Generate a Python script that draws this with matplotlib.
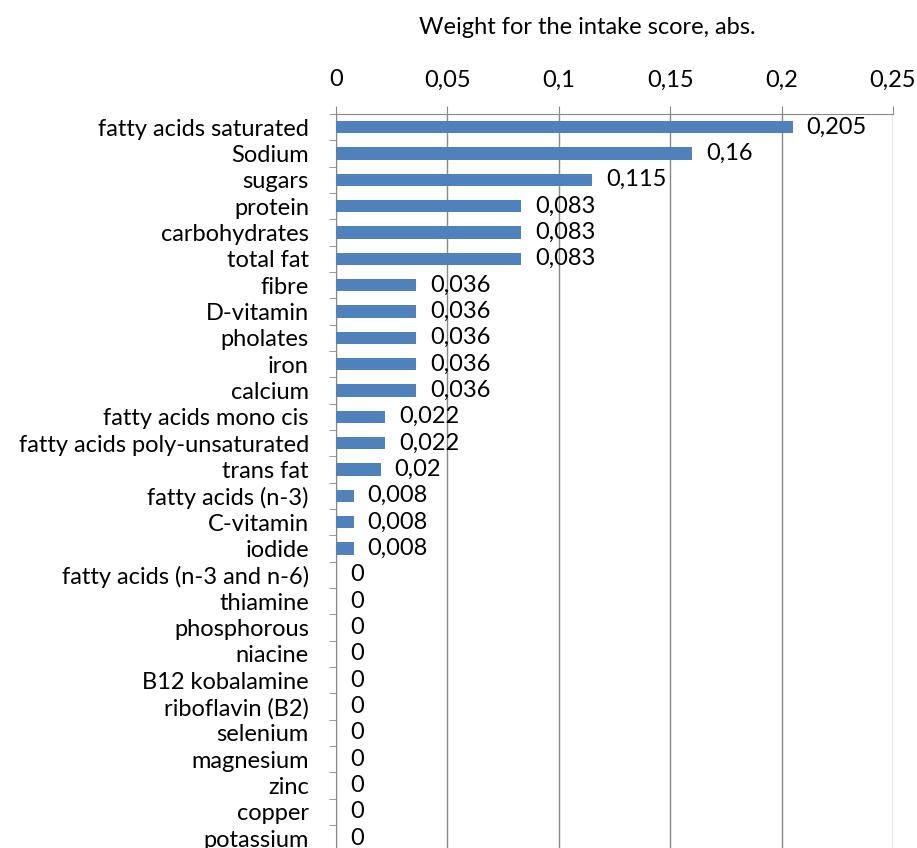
"""
Horizontal bar chart of nutrient weights for the intake score
"""

import numpy as np
import matplotlib
matplotlib.use('Agg')
import matplotlib.pyplot as plt
from matplotlib.ticker import FuncFormatter

nutrients = ['fatty acids saturated', 'Sodium', 'sugars', 'protein',
             'carbohydrates', 'total fat', 'fibre', 'D-vitamin', 'pholates',
             'iron', 'calcium', 'fatty acids mono cis',
             'fatty acids poly-unsaturated', 'trans fat', 'fatty acids (n-3)',
             'C-vitamin', 'iodide', 'fatty acids (n-3 and n-6)', 'thiamine',
             'phosphorous', 'niacine', 'B12 kobalamine', 'riboflavin (B2)',
             'selenium', 'magnesium', 'zinc', 'copper', 'potassium']
weights = [0.205, 0.16, 0.115, 0.083, 0.083, 0.083, 0.036, 0.036, 0.036,
           0.036, 0.036, 0.022, 0.022, 0.02, 0.008, 0.008, 0.008, 0, 0, 0,
           0, 0, 0, 0, 0, 0, 0, 0]
xticks = [0, 0.05, 0.1, 0.15, 0.2, 0.25]


def comma(v):
    s = ('%.3f' % v).rstrip('0').rstrip('.')
    return s.replace('.', ',')


plt.rcParams['font.family'] = ['Lato', 'DejaVu Sans']
fs = 17

W, H = 917, 848
fig = plt.figure(figsize=(W / 100, H / 100), dpi=100)
top_px, step = 114, 26.33
n = len(nutrients)
bottom_px = top_px + n * step
ax = fig.add_axes([336 / W, (H - bottom_px) / H, (893 - 336) / W, n * step / H])

y = np.arange(n)
ax.barh(y, weights, height=0.46, color='#4f81bd', zorder=3)
ax.set_ylim(n - 0.5, -0.5)
ax.set_xlim(0, 0.25)

for yi, v in zip(y, weights):
    ax.annotate(comma(v), (v, yi), xytext=(10, 0), textcoords='offset points',
                ha='left', va='center', fontsize=fs, color='#000000', zorder=4)

ax.xaxis.tick_top()
ax.set_xticks(xticks)
ax.xaxis.set_major_formatter(FuncFormatter(lambda v, p: comma(v)))
ax.tick_params(axis='x', length=6, color='#888888', labelsize=fs, pad=11)
ax.grid(axis='x', color='#888888', linewidth=1, zorder=0)

ax.set_yticks(y)
ax.set_yticklabels(nutrients)
ax.set_yticks(np.arange(n + 1) - 0.5, minor=True)
ax.tick_params(axis='y', which='major', length=0, labelsize=fs, pad=19.5)
ax.tick_params(axis='y', which='minor', length=5, color='#888888')

for side in ['right', 'bottom']:
    ax.spines[side].set_visible(False)
for side in ['left', 'top']:
    ax.spines[side].set_color('#888888')

fig.text(587 / W, 1 - 28 / H, 'Weight for the intake score, abs.',
         ha='center', va='center', fontsize=fs)

fig.savefig('out.png', dpi=100)
